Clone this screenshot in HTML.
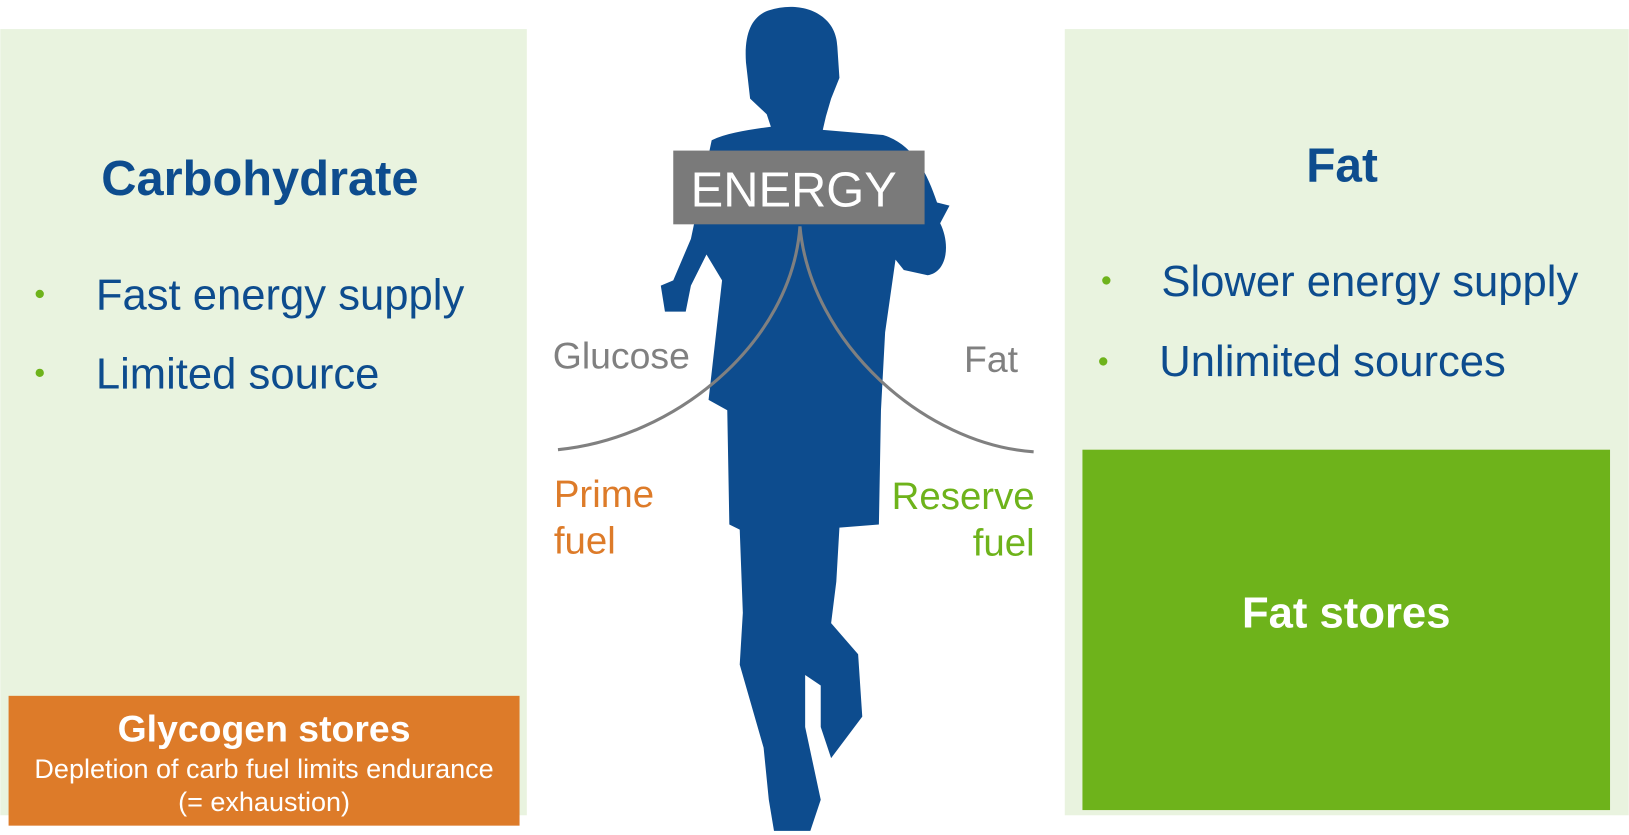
<!DOCTYPE html>
<html><head><meta charset="utf-8"><style>
html,body{margin:0;padding:0;background:#fff;width:1629px;height:835px;overflow:hidden}
svg{display:block}
text{font-family:"Liberation Sans",Arial,sans-serif}
</style></head><body>
<svg width="1629" height="835" viewBox="0 0 1568 804" xmlns="http://www.w3.org/2000/svg">
<rect x="0" y="0" width="1568" height="804" fill="#fff"/>
<rect x="0" y="28" width="507" height="757" fill="#e9f3df"/>
<rect x="1025" y="28" width="543" height="757" fill="#e9f3df"/>
<rect x="8" y="670" width="492" height="125" fill="#dd7b29"/>
<rect x="1042" y="433" width="508" height="347" fill="#6eb31b"/>

<path fill="#0d4c8e" d="M 740,10 C 770,0 805,12 806,45 L 808,75 L 800,95 L 795,112 L 792,125 L 850,130 C 878,138 892,165 902,195 L 914,198 L 905,215 C 915,235 912,262 893,265 L 870,260 L 862,250 L 852,320 L 848,395 L 846,505 L 808,508 L 805,560 L 800,600 L 826,630 L 830,690 L 800,730 L 790,700 L 790,660 L 775,650 L 775,700 L 790,770 L 780,800 L 745,800 L 740,770 L 735,720 L 712,640 L 715,590 L 712,510 L 702,505 L 700,395 L 682,385 L 695,270 L 680,245 L 665,275 L 660,300 L 640,300 L 636,275 L 648,270 L 665,230 L 685,135 C 700,128 720,125 742,122 L 738,110 L 722,95 L 718,60 C 716,30 725,15 740,10 Z"/>

<path d="M770,218 C 762,330 650,422 537,433" fill="none" stroke="#808080" stroke-width="3"/>
<path d="M770,218 C 780,330 890,428 995,435" fill="none" stroke="#808080" stroke-width="3"/>
<rect x="648" y="145" width="242" height="71" fill="#7a7a7a"/>
<text x="764" y="199" font-size="47" fill="#fff" text-anchor="middle">ENERGY</text>

<text x="532" y="355" font-size="36" fill="#808080">Glucose</text>
<text x="928" y="358" font-size="36" fill="#808080">Fat</text>
<text x="533" y="488" font-size="37" fill="#dd7b29">Prime</text>
<text x="533" y="533" font-size="37" fill="#dd7b29">fuel</text>
<text x="996" y="490" font-size="37" fill="#6eb31b" text-anchor="end">Reserve</text>
<text x="996" y="535" font-size="37" fill="#6eb31b" text-anchor="end">fuel</text>

<text x="250" y="188" font-size="47" font-weight="bold" fill="#0d4c8e" text-anchor="middle">Carbohydrate</text>
<circle cx="38" cy="283" r="4" fill="#6eb31b"/>
<circle cx="38" cy="359" r="4" fill="#6eb31b"/>
<text x="92" y="298" font-size="42" fill="#0d4c8e">Fast energy supply</text>
<text x="92" y="374" font-size="42" fill="#0d4c8e">Limited source</text>

<text x="1292" y="175" font-size="46" font-weight="bold" fill="#0d4c8e" text-anchor="middle">Fat</text>
<circle cx="1065" cy="270" r="4" fill="#6eb31b"/>
<circle cx="1062" cy="348" r="4" fill="#6eb31b"/>
<text x="1118" y="285" font-size="42" fill="#0d4c8e">Slower energy supply</text>
<text x="1116" y="362" font-size="42" fill="#0d4c8e">Unlimited sources</text>

<text x="1296" y="604" font-size="42" font-weight="bold" fill="#fff" text-anchor="middle">Fat stores</text>
<text x="254" y="714" font-size="36" font-weight="bold" fill="#fff" text-anchor="middle">Glycogen stores</text>
<text x="254" y="749" font-size="26" fill="#fff" text-anchor="middle">Depletion of carb fuel limits endurance</text>
<text x="254" y="781" font-size="26" fill="#fff" text-anchor="middle">(= exhaustion)</text>
</svg>
</body></html>
